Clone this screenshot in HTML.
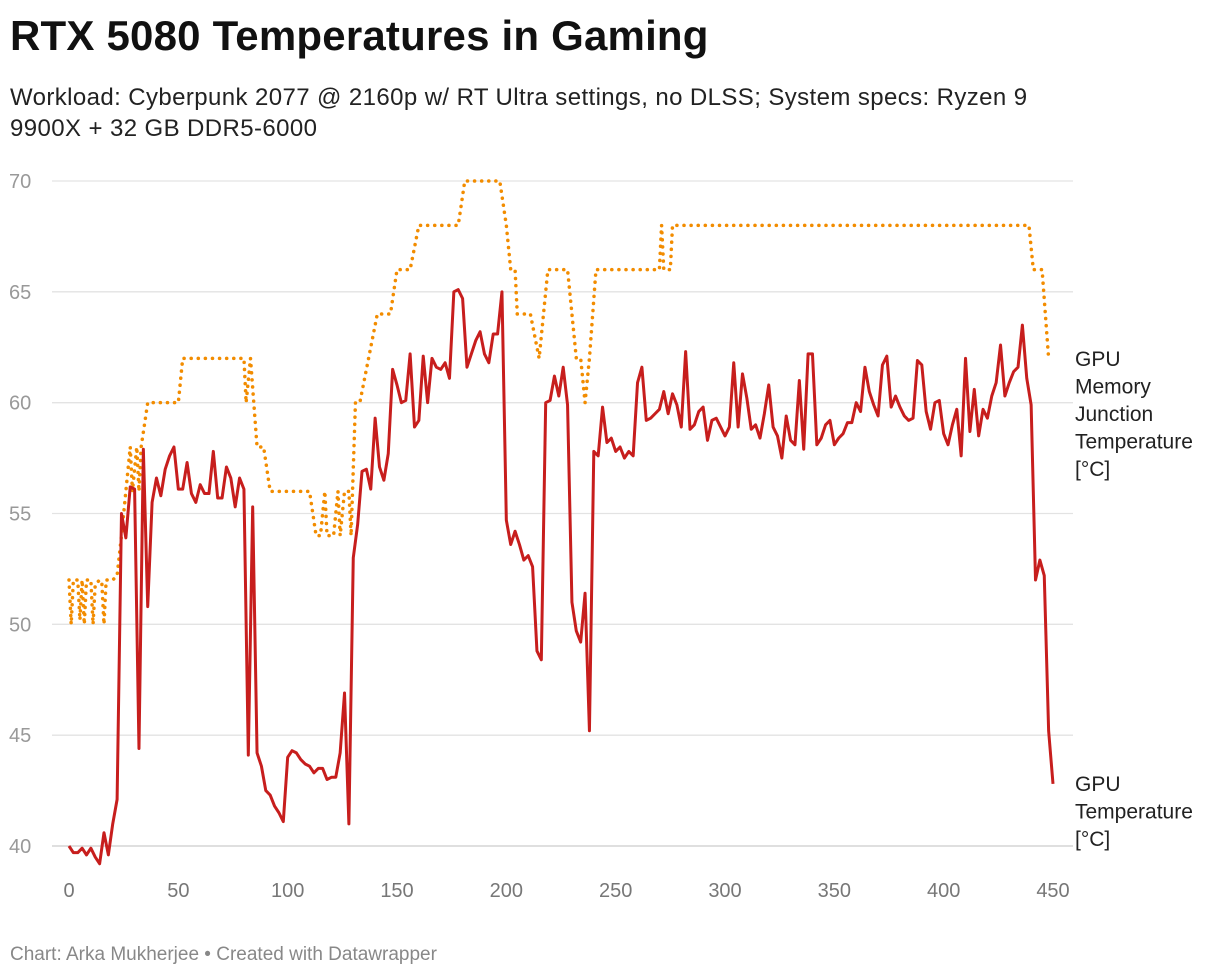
<!DOCTYPE html>
<html><head><meta charset="utf-8"><style>
body{margin:0;background:#fff;width:1220px;height:980px;overflow:hidden;font-family:"Liberation Sans",Arial,sans-serif}
h1{position:absolute;left:10px;top:12px;margin:0;font-size:42px;font-weight:bold;color:#111;letter-spacing:0.2px}
.sub{position:absolute;left:10px;top:82px;font-size:24px;line-height:31px;color:#222;width:1200px;letter-spacing:0.4px}
.foot{position:absolute;left:10px;top:944px;font-size:19px;color:#888}
svg{position:absolute;left:0;top:0}
</style></head><body>
<h1>RTX 5080 Temperatures in Gaming</h1>
<div class="sub">Workload: Cyberpunk 2077 @ 2160p w/ RT Ultra settings, no DLSS; System specs: Ryzen 9<br>9900X + 32 GB DDR5-6000</div>
<svg id="chart" width="1220" height="980"></svg>
<div class="foot">Chart: Arka Mukherjee • Created with Datawrapper</div>
<script>
const yTicks=[40,45,50,55,60,65,70];
const xTicks=[0,50,100,150,200,250,300,350,400,450];
const gpuX=[0,2,4,6,8,10,12,14,16,18,20,22,24,26,28,30,32,34,36,38,40,42,44,46,48,50,52,54,56,58,60,62,64,66,68,70,72,74,76,78,80,82,84,86,88,90,92,94,96,98,100,102,104,106,108,110,112,114,116,118,120,122,124,126,128,130,132,134,136,138,140,142,144,146,148,150,152,154,156,158,160,162,164,166,168,170,172,174,176,178,180,182,184,186,188,190,192,194,196,198,200,202,204,206,208,210,212,214,216,218,220,222,224,226,228,230,232,234,236,238,240,242,244,246,248,250,252,254,256,258,260,262,264,266,268,270,272,274,276,278,280,282,284,286,288,290,292,294,296,298,300,302,304,306,308,310,312,314,316,318,320,322,324,326,328,330,332,334,336,338,340,342,344,346,348,350,352,354,356,358,360,362,364,366,368,370,372,374,376,378,380,382,384,386,388,390,392,394,396,398,400,402,404,406,408,410,412,414,416,418,420,422,424,426,428,430,432,434,436,438,440,442,444,446,448,450];
const gpuTemp=[40,39.7,39.7,39.9,39.6,39.9,39.5,39.2,40.6,39.6,41,42.1,55,53.9,56.2,56.1,44.4,57.9,50.8,55.5,56.6,55.8,57,57.6,58,56.1,56.1,57.3,55.9,55.5,56.3,55.9,55.9,57.8,55.7,55.7,57.1,56.6,55.3,56.6,56.1,44.1,55.3,44.2,43.6,42.5,42.3,41.8,41.5,41.1,44,44.3,44.2,43.9,43.7,43.6,43.3,43.5,43.5,43,43.1,43.1,44.2,46.9,41,53,54.5,56.9,57,56.1,59.3,57.1,56.5,57.7,61.5,60.8,60,60.1,62.2,58.9,59.2,62.1,60,62,61.6,61.5,61.8,61.1,65,65.1,64.7,61.6,62.2,62.8,63.2,62.2,61.8,63.1,63.1,65,54.7,53.6,54.2,53.6,52.9,53.1,52.6,48.8,48.4,60,60.1,61.2,60.3,61.6,59.9,51,49.7,49.2,51.4,45.2,57.8,57.6,59.8,58.2,58.4,57.8,58,57.5,57.8,57.6,60.9,61.6,59.2,59.3,59.5,59.7,60.5,59.5,60.4,59.9,58.9,62.3,58.8,59,59.6,59.8,58.3,59.2,59.3,58.9,58.5,58.9,61.8,58.9,61.3,60.2,58.8,59,58.4,59.5,60.8,58.9,58.5,57.5,59.4,58.3,58.1,61,57.9,62.2,62.2,58.1,58.4,59,59.2,58.1,58.4,58.6,59.1,59.1,60,59.6,61.6,60.5,59.9,59.4,61.7,62.1,59.8,60.3,59.8,59.4,59.2,59.3,61.9,61.7,59.6,58.8,60,60.1,58.6,58.1,59,59.7,57.6,62,58.7,60.6,58.5,59.7,59.3,60.3,60.9,62.6,60.3,60.9,61.4,61.6,63.5,61.1,59.9,52,52.9,52.2,45.2,42.8];
const memX=[0,1,2,4,5,6,7,8,10,11,12,14,15,16,17,20,22,24,26,28,29,31,32,33,36,50,52,80,81,83,86,89,92,110,113,115,117,118,121,123,124,126,128,129,131,133,137,141,147,150,156,160,178,181,197,200,202,204,205,211,213,215,217,219,228,230,232,234,236,238,241,270,271,272,275,276,279,439,441,445,448];
const memTemp=[52,50,52,52,50.2,52,50,52,52,50,51.8,52,51.9,50,52,52,52.2,54,56,58,56,58,56,58,60,60,62,62,60,62,58,58,56,56,54,54,56,54,54,56,54,56,56,54,60,60,62,64,64,66,66,68,68,70,70,68,66,66,64,64,63,62,64,66,66,64,62,62,60,62,66,66,68,66,66,68,68,68,66,66,62];
const NS="http://www.w3.org/2000/svg";
const svg=document.getElementById('chart');
const X=v=>69+(v)*984/450;
const Y=v=>846-(v-40)*665/30;
function mk(t,a){const e=document.createElementNS(NS,t);for(const k in a)e.setAttribute(k,a[k]);svg.appendChild(e);return e;}
yTicks.forEach(t=>{
  const l=mk('line',{x1:52,x2:1073,y1:Y(t),y2:Y(t),stroke:t===40?'#ccc':'#e3e3e3','stroke-width':1.3});
  
  
  const tx=mk('text',{x:9,y:Y(t)+7,'font-size':20,fill:'#999'});tx.textContent=t;
  
  
});
xTicks.forEach(t=>{
  const tx=mk('text',{x:X(t),y:897,'font-size':20,fill:'#777','text-anchor':'middle'});tx.textContent=t;
  
  
});
const mp=mk('polyline',{points:memX.map((x,i)=>X(x)+','+Y(memTemp[i])).join(' '),fill:'none',stroke:'#f28c00','stroke-width':3.5,'stroke-dasharray':'0.1 7','stroke-linecap':'round','stroke-linejoin':'round'});


const gp=mk('polyline',{points:gpuX.map((x,i)=>X(x)+','+Y(gpuTemp[i])).join(' '),fill:'none',stroke:'#c71e1d','stroke-width':3,'stroke-linejoin':'round'});


function lab(lines,y0,name){const t=mk('text',{x:1075,y:y0,'font-size':21,fill:'#222'});
  lines.forEach((s,i)=>{const ts=document.createElementNS(NS,'tspan');ts.setAttribute('x',1075);ts.setAttribute('dy',i?27.5:0);ts.textContent=s;t.appendChild(ts);});
  
  }
lab(['GPU','Memory','Junction','Temperature','[°C]'],366,'memory-junction-label');
lab(['GPU','Temperature','[°C]'],791,'gpu-temperature-label');
</script>
</body></html>
